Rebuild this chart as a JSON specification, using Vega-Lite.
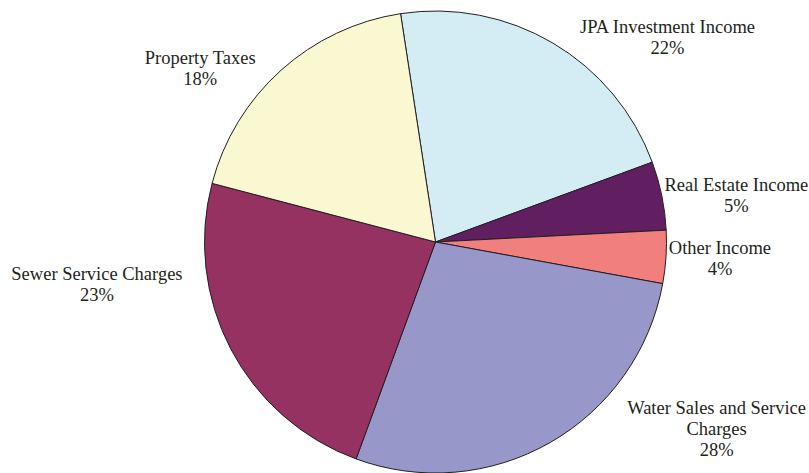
{
  "$schema": "https://vega.github.io/schema/vega-lite/v6.json",
  "width": 747,
  "height": 462,
  "autosize": {"type": "none"},
  "padding": {"left": 62, "top": 11, "right": 0, "bottom": 0},
  "background": "white",
  "config": {"view": {"stroke": null}},
  "data": {
    "values": [
      {"idx": 1, "category": "JPA Investment Income", "value": 21.8, "label": "JPA Investment Income\n22%"},
      {"idx": 2, "category": "Real Estate Income", "value": 4.8, "label": "Real Estate Income\n5%"},
      {"idx": 3, "category": "Other Income", "value": 3.7, "label": "Other Income\n4%"},
      {"idx": 4, "category": "Water Sales and Service Charges", "value": 27.7, "label": "Water Sales and Service\nCharges\n28%"},
      {"idx": 5, "category": "Sewer Service Charges", "value": 23.5, "label": "Sewer Service Charges\n23%"},
      {"idx": 6, "category": "Property Taxes", "value": 18.5, "label": "Property Taxes\n18%"}
    ]
  },
  "transform": [
    {"stack": "value", "groupby": [], "sort": [{"field": "idx", "order": "ascending"}], "as": ["v0", "v1"]},
    {"calculate": "(datum.v0 + datum.v1) / 2", "as": "vmid"}
  ],
  "layer": [
    {
      "mark": {"type": "arc", "outerRadius": 231, "stroke": "#231F20", "strokeWidth": 1},
      "encoding": {
        "theta": {"field": "v0", "type": "quantitative", "scale": {"domain": [0, 100], "range": [-0.1518, 6.1314]}},
        "theta2": {"field": "v1"},
        "color": {
          "field": "category",
          "type": "nominal",
          "legend": null,
          "scale": {
            "domain": ["JPA Investment Income", "Real Estate Income", "Other Income", "Water Sales and Service Charges", "Sewer Service Charges", "Property Taxes"],
            "range": ["#D4ECF3", "#611F61", "#F17F7D", "#9797CA", "#953262", "#FAF8D1"]
          }
        }
      }
    },
    {
      "transform": [{"filter": "datum.idx == 1"}],
      "mark": {"type": "text", "radius": 250, "dx": 105, "dy": 0, "font": "Liberation Serif", "fontSize": 18.5, "lineHeight": 21, "lineBreak": "\n", "align": "center", "baseline": "middle", "color": "#231F20"},
      "encoding": {"theta": {"field": "vmid", "type": "quantitative"}, "text": {"field": "label"}}
    },
    {
      "transform": [{"filter": "datum.idx == 2"}],
      "mark": {"type": "text", "radius": 250, "dx": 56, "dy": -7, "font": "Liberation Serif", "fontSize": 18.5, "lineHeight": 21, "lineBreak": "\n", "align": "center", "baseline": "middle", "color": "#231F20"},
      "encoding": {"theta": {"field": "vmid", "type": "quantitative"}, "text": {"field": "label"}}
    },
    {
      "transform": [{"filter": "datum.idx == 3"}],
      "mark": {"type": "text", "radius": 250, "dx": 35, "dy": -10, "font": "Liberation Serif", "fontSize": 18.5, "lineHeight": 21, "lineBreak": "\n", "align": "center", "baseline": "middle", "color": "#231F20"},
      "encoding": {"theta": {"field": "vmid", "type": "quantitative"}, "text": {"field": "label"}}
    },
    {
      "transform": [{"filter": "datum.idx == 4"}],
      "mark": {"type": "text", "radius": 250, "dx": 157, "dy": -51, "font": "Liberation Serif", "fontSize": 18.5, "lineHeight": 21, "lineBreak": "\n", "align": "center", "baseline": "middle", "color": "#231F20"},
      "encoding": {"theta": {"field": "vmid", "type": "quantitative"}, "text": {"field": "label"}}
    },
    {
      "transform": [{"filter": "datum.idx == 5"}],
      "mark": {"type": "text", "radius": 250, "dx": -117, "dy": -84, "font": "Liberation Serif", "fontSize": 18.5, "lineHeight": 21, "lineBreak": "\n", "align": "center", "baseline": "middle", "color": "#231F20"},
      "encoding": {"theta": {"field": "vmid", "type": "quantitative"}, "text": {"field": "label"}}
    },
    {
      "transform": [{"filter": "datum.idx == 6"}],
      "mark": {"type": "text", "radius": 250, "dx": -68, "dy": 2, "font": "Liberation Serif", "fontSize": 18.5, "lineHeight": 21, "lineBreak": "\n", "align": "center", "baseline": "middle", "color": "#231F20"},
      "encoding": {"theta": {"field": "vmid", "type": "quantitative"}, "text": {"field": "label"}}
    }
  ]
}
